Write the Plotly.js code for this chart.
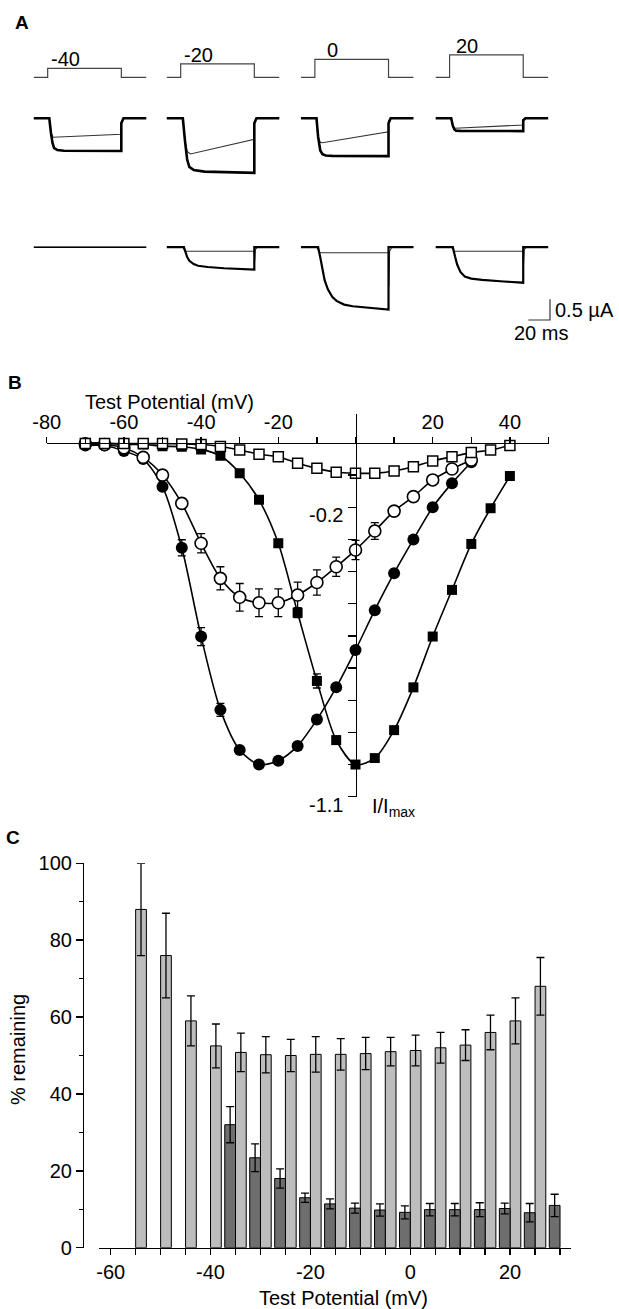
<!DOCTYPE html>
<html><head><meta charset="utf-8">
<script src="https://cdn.plot.ly/plotly-3.0.1.min.js"></script>
<style>html,body{margin:0;padding:0;background:#fff;} #chart{width:619px;height:1309px;}</style>
</head><body><div id="chart"></div>
<script>
// ================= DATA =================
// Panel A: voltage steps (mV) and current traces (ms, µA)
const aStepLabels = ['-40', '-20', '0', '20'];
const aStepMv = [-40, -20, 0, 20];
const aHoldMv = -80;
const aStepT = [-13, 0, 0, 68, 68, 91];

const aRow1ThickT = [
  [-13, 1.5, 3, 4.5, 6, 9, 15, 68, 68, 70, 91],
  [-13, 2, 4, 6, 8, 12, 22, 68, 68, 70, 91],
  [-13, 1.5, 3, 5, 7, 10, 16, 68, 68, 70, 91],
  [-13, 1.5, 3, 4.5, 6, 10, 68, 68, 70, 91]
];
const aRow1ThickI = [
  [0, 0, -0.35, -0.6, -0.72, -0.77, -0.785, -0.79, -0.12, 0, 0],
  [0, 0, -0.55, -1.0, -1.18, -1.25, -1.29, -1.32, -0.12, 0, 0],
  [0, 0, -0.45, -0.78, -0.87, -0.9, -0.91, -0.915, -0.12, 0, 0],
  [0, 0, -0.18, -0.27, -0.3, -0.305, -0.31, -0.05, 0, 0]
];
const aRow1ThinT = [
  [-13, 1.5, 3, 5, 68, 68, 70, 91],
  [-13, 2, 4, 6, 9, 68, 68, 70, 91],
  [-13, 1.5, 3, 5, 7, 68, 68, 70, 91],
  [-13, 1.5, 3, 5, 68, 68, 70, 91]
];
const aRow1ThinI = [
  [0, 0, -0.35, -0.46, -0.387, -0.08, 0, 0],
  [0, 0, -0.55, -0.8, -0.864, -0.508, -0.08, 0, 0],
  [0, 0, -0.45, -0.58, -0.59, -0.324, -0.06, 0, 0],
  [0, 0, -0.18, -0.242, -0.162, -0.03, 0, 0]
];
const aRow2ThinT = [
  [-13, 91],
  [-13, 2, 4, 68, 68.3, 69, 71, 91],
  [-13, 2, 4, 68, 68.3, 69, 71, 91],
  [-13, 2, 4, 68, 68.3, 69, 71, 91]
];
const aRow2ThinI = [
  [0, 0],
  [0, 0, -0.097, -0.097, -0.34, -0.05, 0, 0],
  [0, 0, -0.136, -0.136, -0.95, -0.1, 0, 0],
  [0, 0, -0.097, -0.097, -0.4, -0.05, 0, 0]
];
const aRow2ThickT = [
  [-13, 91],
  [-13, 3, 4.5, 6, 8, 12, 16, 25, 40, 68, 68, 91],
  [-13, 3, 5, 7, 9, 12, 16, 20, 27, 35, 50, 68, 68, 91],
  [-13, 3, 5, 7, 10, 14, 20, 30, 50, 68, 68, 91]
];
const aRow2ThickI = [
  [0, 0],
  [0, 0, -0.12, -0.24, -0.33, -0.41, -0.45, -0.48, -0.51, -0.54, 0, 0],
  [0, 0, -0.25, -0.55, -0.8, -1.02, -1.2, -1.3, -1.39, -1.43, -1.47, -1.51, 0, 0],
  [0, 0, -0.22, -0.42, -0.6, -0.71, -0.76, -0.79, -0.83, -0.86, 0, 0]
];
const scaleBarMs = 20;
const scaleBarUA = 0.5;

// Panel B: I/Imax vs test potential
const bPotential = [-70,-65,-60,-55,-50,-45,-40,-35,-30,-25,-20,-15,-10,-5,0,5,10,15,20,25,30,35,40];
const bOpenCirclePotential = [-70,-65,-60,-55,-50,-45,-40,-35,-30,-25,-20,-15,-10,-5,0,5,10,15,20,25,30];
const bOpenSquare = [-0.002,-0.002,-0.002,-0.002,-0.002,-0.003,-0.005,-0.011,-0.022,-0.035,-0.043,-0.063,-0.079,-0.091,-0.094,-0.094,-0.087,-0.074,-0.056,-0.043,-0.03,-0.022,-0.008];
const bOpenSquareErr = [0.006,0.006,0.006,0.006,0.006,0.006,0.006,0.008,0.008,0.008,0.008,0.008,0.006,0.006,0.006,0.006,0.006,0.006,0.008,0.008,0.008,0.006,0.006];
const bOpenCircle = [-0.003,-0.005,-0.015,-0.045,-0.10,-0.188,-0.312,-0.421,-0.48,-0.497,-0.497,-0.473,-0.434,-0.385,-0.333,-0.274,-0.212,-0.167,-0.115,-0.081,-0.053];
const bOpenCircleErr = [0.005,0.005,0.005,0.008,0.01,0.015,0.03,0.036,0.043,0.043,0.043,0.04,0.039,0.03,0.03,0.026,0.012,0.01,0.01,0.01,0.01];
const bFilledCircle = [-0.008,-0.008,-0.025,-0.05,-0.136,-0.326,-0.602,-0.83,-0.955,-1.0,-0.988,-0.942,-0.86,-0.76,-0.644,-0.52,-0.405,-0.30,-0.20,-0.125,-0.06];
const bFilledCircleErr = [0.005,0.005,0.005,0.008,0.01,0.025,0.028,0.02,0.01,0.01,0.01,0.01,0.01,0.01,0.01,0.01,0.01,0.01,0.01,0.01,0.01];
const bFilledSquare = [0,0,-0.005,-0.005,-0.01,-0.012,-0.02,-0.04,-0.094,-0.177,-0.312,-0.528,-0.74,-0.924,-1.0,-0.98,-0.893,-0.76,-0.602,-0.457,-0.314,-0.203,-0.103];
const bFilledSquareErr = [0.005,0.005,0.005,0.005,0.005,0.006,0.006,0.008,0.01,0.01,0.012,0.015,0.022,0.012,0.01,0.01,0.01,0.01,0.01,0.01,0.01,0.01,0.01];
const bXTicks = [-80,-60,-40,-20,20,40];
const bXTickText = ['-80','-60','-40','-20','20','40'];
const bXMinorTicks = [-70,-50,-30,-10,0,10,30,50];
const bYTicks = [-1.1,-0.2];
const bYTickText = ['-1.1','-0.2'];
const bYMinorTicks = [-1.0,-0.9,-0.8,-0.7,-0.6,-0.5,-0.4,-0.3,-0.1];

// Panel C: % remaining
const cLightPotential = [-55,-50,-45,-40,-35,-30,-25,-20,-15,-10,-5,0,5,10,15,20,25];
const cLightValues = [88,76,59,52.5,50.8,50.2,50,50.3,50.3,50.5,51,51.3,52,52.7,56,59,68];
const cLightErr = [12,11,6.5,5.7,5,4.7,4.2,4.6,4.1,4.2,3.7,4,4,4,4.5,6,7.5];
const cDarkPotential = [-35,-30,-25,-20,-15,-10,-5,0,5,10,15,20,25,30];
const cDarkValues = [32,23.4,18,13,11.4,10.3,9.8,9.2,9.9,9.9,9.9,10.2,9.1,11];
const cDarkErr = [4.7,3.6,2.5,1.2,1.3,1.3,1.6,1.7,1.6,1.6,1.8,1.4,2.4,2.9];
const cXTicks = [-60,-40,-20,0,20];
const cXTickText = ['-60','-40','-20','0','20'];
const cXMinorTicks = [-55,-50,-45,-35,-30,-25,-15,-10,-5,5,10,15,25,30];
const cYTicks = [0,20,40,60,80,100];
const cYMinorTicks = [10,30,50,70,90];

// ================= LAYOUT HELPERS =================
const W = 619, H = 1309;
const FONT = 'Liberation Sans, Arial, Helvetica, sans-serif';
const px = x => x / W;
const py = y => 1 - y / H;
const xdom = (a, b) => [px(a), px(b)];
const ydom = (top, bottom) => [py(bottom), py(top)];
function yRange(top, bottom, basePx, baseVal, pxPerUnit) {
  return [baseVal - (bottom - basePx) / pxPerUnit, baseVal + (basePx - top) / pxPerUnit];
}

// Panel A geometry (pixels)
const aColStart = [33.6, 166.6, 300.8, 435.5];
const aPxPerMs = 1.083;
const aTRange = [-13, 100];
const aColW = (aTRange[1] - aTRange[0]) * aPxPerMs;
const aVDom = [35, 82], aR1Dom = [100, 185], aR2Dom = [232, 330];
const aVRange = yRange(aVDom[0], aVDom[1], 77.3, aHoldMv, 0.225);
const aR1Range = yRange(aR1Dom[0], aR1Dom[1], 118.3, 0, 41.3);
const aR2Range = yRange(aR2Dom[0], aR2Dom[1], 247.2, 0, 41.3);

const traces = [];
const annotations = [];
const hidden = {visible: false, showgrid: false, zeroline: false, fixedrange: true};

const layout = {
  width: W, height: H, autosize: false,
  margin: {l: 0, r: 0, t: 0, b: 0, pad: 0},
  paper_bgcolor: '#fff', plot_bgcolor: 'rgba(0,0,0,0)',
  showlegend: false,
  font: {family: FONT, color: '#000', size: 20},
  barmode: 'overlay'
};

for (let i = 0; i < 4; i++) {
  const xa = 'x' + (3 + i);
  layout['xaxis' + (3 + i)] = Object.assign({domain: xdom(aColStart[i], aColStart[i] + aColW), range: aTRange, anchor: 'y3'}, hidden);
  const v = aStepMv[i];
  traces.push({type: 'scatter', mode: 'lines', xaxis: xa, yaxis: 'y3',
    x: aStepT, y: [aHoldMv, aHoldMv, v, v, aHoldMv, aHoldMv],
    line: {color: '#444', width: 1.2}, hoverinfo: 'skip'});
  annotations.push({xref: xa, yref: 'y3', x: 16.5, y: v, yshift: 9, yanchor: 'middle', xanchor: 'center',
    text: aStepLabels[i], showarrow: false, font: {size: 20}});
  traces.push({type: 'scatter', mode: 'lines', xaxis: xa, yaxis: 'y4', x: aRow1ThinT[i], y: aRow1ThinI[i],
    line: {color: '#333', width: 1.1}, hoverinfo: 'skip'});
  traces.push({type: 'scatter', mode: 'lines', xaxis: xa, yaxis: 'y4', x: aRow1ThickT[i], y: aRow1ThickI[i],
    line: {color: '#000', width: 2.6}, hoverinfo: 'skip'});
  traces.push({type: 'scatter', mode: 'lines', xaxis: xa, yaxis: 'y5', x: aRow2ThinT[i], y: aRow2ThinI[i],
    line: {color: '#333', width: 1.1}, hoverinfo: 'skip'});
  traces.push({type: 'scatter', mode: 'lines', xaxis: xa, yaxis: 'y5', x: aRow2ThickT[i], y: aRow2ThickI[i],
    line: {color: '#000', width: i === 0 ? 1.6 : 2.2}, hoverinfo: 'skip'});
}
layout.yaxis3 = Object.assign({domain: ydom(aVDom[0], aVDom[1]), range: aVRange, anchor: 'x3'}, hidden);
layout.yaxis4 = Object.assign({domain: ydom(aR1Dom[0], aR1Dom[1]), range: aR1Range, anchor: 'x3'}, hidden);
layout.yaxis5 = Object.assign({domain: ydom(aR2Dom[0], aR2Dom[1]), range: aR2Range, anchor: 'x3'}, hidden);

// scale bar (in column 4 axes)
const sbT = aTRange[0] + (550 - aColStart[3]) / aPxPerMs;
const sbI = -(320 - 247.2) / 41.3;
traces.push({type: 'scatter', mode: 'lines', xaxis: 'x6', yaxis: 'y5',
  x: [sbT - scaleBarMs, sbT, sbT], y: [sbI, sbI, sbI + scaleBarUA],
  line: {color: '#333', width: 1.2}, hoverinfo: 'skip', cliponaxis: false});
annotations.push({xref: 'x6', yref: 'y5', x: sbT, y: sbI + scaleBarUA / 2, xanchor: 'left', xshift: 3,
  yanchor: 'middle', text: scaleBarUA + ' \u00b5A', showarrow: false, font: {size: 20}});
annotations.push({xref: 'x6', yref: 'y5', x: sbT - scaleBarMs / 2 + 2, y: sbI, xanchor: 'center', yanchor: 'top',
  text: scaleBarMs + ' ms', showarrow: false, font: {size: 20}});

// ================= PANEL B =================
const bErr = (arr) => ({type: 'data', array: arr, visible: true, color: '#000', thickness: 1.3, width: 4});
traces.push({type: 'scatter', mode: 'lines+markers', xaxis: 'x2', yaxis: 'y2', x: bPotential, y: bFilledSquare,
  error_y: bErr(bFilledSquareErr), line: {color: '#000', width: 1.6, shape: 'spline', smoothing: 0.8},
  marker: {symbol: 'square', size: 10, color: '#000'}, hoverinfo: 'skip'});
traces.push({type: 'scatter', mode: 'lines+markers', xaxis: 'x2', yaxis: 'y2', x: bOpenCirclePotential, y: bFilledCircle,
  error_y: bErr(bFilledCircleErr), line: {color: '#000', width: 1.6, shape: 'spline', smoothing: 0.8},
  marker: {symbol: 'circle', size: 12, color: '#000'}, hoverinfo: 'skip'});
traces.push({type: 'scatter', mode: 'lines+markers', xaxis: 'x2', yaxis: 'y2', x: bOpenCirclePotential, y: bOpenCircle,
  error_y: bErr(bOpenCircleErr), line: {color: '#000', width: 1.6, shape: 'spline', smoothing: 0.8},
  marker: {symbol: 'circle', size: 12, color: '#fff', line: {color: '#000', width: 1.6}}, hoverinfo: 'skip'});
traces.push({type: 'scatter', mode: 'lines+markers', xaxis: 'x2', yaxis: 'y2', x: bPotential, y: bOpenSquare,
  error_y: bErr(bOpenSquareErr), line: {color: '#000', width: 1.6, shape: 'spline', smoothing: 0.8},
  marker: {symbol: 'square', size: 10, color: '#fff', line: {color: '#000', width: 1.5}}, hoverinfo: 'skip'});

layout.xaxis2 = {domain: xdom(46.7, 548.5), range: [-80, 50], anchor: 'free', position: py(443), side: 'top',
  showline: true, linecolor: '#000', linewidth: 1.4, ticks: 'outside', ticklen: 6, tickwidth: 1.4, tickcolor: '#000',
  tickmode: 'array', tickvals: bXTicks, ticktext: bXTickText, tickfont: {size: 20},
  minor: {tickmode: 'array', tickvals: bXMinorTicks, ticks: 'outside', ticklen: 6, tickwidth: 1.4, tickcolor: '#000'},
  showgrid: false, zeroline: false, fixedrange: true};
layout.yaxis2 = {domain: ydom(414, 796.7), range: [-1.1, 0.09], anchor: 'free', position: px(355.5), side: 'left',
  showline: true, linecolor: '#000', linewidth: 1.4, ticks: 'outside', ticklen: 8, tickwidth: 1.4, tickcolor: '#000',
  tickmode: 'array', tickvals: bYTicks, ticktext: bYTickText, tickfont: {size: 20}, ticklabelshift: 8,
  minor: {tickmode: 'array', tickvals: bYMinorTicks, ticks: 'outside', ticklen: 8, tickwidth: 1.4, tickcolor: '#000'},
  showgrid: false, zeroline: false, fixedrange: true};
annotations.push({xref: 'paper', yref: 'paper', x: px(170), y: py(401.7), xanchor: 'center', yanchor: 'middle',
  text: 'Test Potential (mV)', showarrow: false, font: {size: 20}});
annotations.push({xref: 'paper', yref: 'paper', x: px(370), y: py(807), xanchor: 'left', yanchor: 'middle',
  text: 'I/I<sub>max</sub>', showarrow: false, font: {size: 20}});

// ================= PANEL C =================
const cErr = (arr) => ({type: 'data', array: arr, visible: true, color: '#000', thickness: 1.3, width: 4});
const barW = 2.15;
traces.push({type: 'bar', xaxis: 'x', yaxis: 'y', x: cLightPotential, y: cLightValues, width: barW, offset: 0,
  marker: {color: '#bdbdbd', line: {color: '#000', width: 1}}, error_y: cErr(cLightErr), cliponaxis: false, hoverinfo: 'skip'});
traces.push({type: 'bar', xaxis: 'x', yaxis: 'y', x: cDarkPotential, y: cDarkValues, width: barW, offset: -barW,
  marker: {color: '#6e6e6e', line: {color: '#000', width: 1}}, error_y: cErr(cDarkErr), cliponaxis: false, hoverinfo: 'skip'});

layout.xaxis = {domain: xdom(98.7, 570.5), range: [-62.4, 32.1], anchor: 'y',
  showline: true, linecolor: '#000', linewidth: 1.4, ticks: 'outside', ticklen: 6, tickwidth: 1.4, tickcolor: '#000',
  tickmode: 'array', tickvals: cXTicks, ticktext: cXTickText, tickfont: {size: 20},
  minor: {tickmode: 'array', tickvals: cXMinorTicks, ticks: 'outside', ticklen: 6, tickwidth: 1.4, tickcolor: '#000'},
  showgrid: false, zeroline: false, fixedrange: true};
layout.yaxis = {domain: ydom(863.3, 1247.7), range: [0, 100], anchor: 'free', position: px(82.9),
  showline: true, linecolor: '#000', linewidth: 1.4, ticks: 'outside', ticklen: 7, tickwidth: 1.4, tickcolor: '#000',
  tickmode: 'array', tickvals: cYTicks, tickfont: {size: 20},
  minor: {tickmode: 'array', tickvals: cYMinorTicks, ticks: 'outside', ticklen: 4, tickwidth: 1.2, tickcolor: '#000'},
  showgrid: false, zeroline: false, fixedrange: true};
annotations.push({xref: 'paper', yref: 'paper', x: px(18), y: py(1050), xanchor: 'center', yanchor: 'middle',
  textangle: -90, text: '% remaining', showarrow: false, font: {size: 20}});
annotations.push({xref: 'paper', yref: 'paper', x: px(343), y: py(1298), xanchor: 'center', yanchor: 'middle',
  text: 'Test Potential (mV)', showarrow: false, font: {size: 20}});

// panel letters
[['A', 22, 22], ['B', 15, 382], ['C', 13, 837]].forEach(([t, x, y]) => {
  annotations.push({xref: 'paper', yref: 'paper', x: px(x), y: py(y), xanchor: 'center', yanchor: 'middle',
    text: '<b>' + t + '</b>', showarrow: false, font: {size: 19}});
});

layout.annotations = annotations;
Plotly.newPlot('chart', traces, layout, {staticPlot: true, displayModeBar: false});
</script>
</body></html>
